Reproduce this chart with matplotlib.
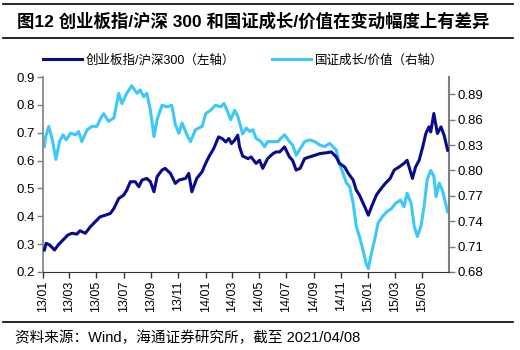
import pandas as pd
import matplotlib
matplotlib.use("Agg")
import matplotlib.pyplot as plt
import matplotlib.dates as mdates
from matplotlib.lines import Line2D

plt.rcParams['font.family'] = ['Liberation Sans', 'Noto Sans CJK SC', 'DejaVu Sans']

# 创业板指/沪深300 (left axis)
cyb_dates = [
    "2013-01-04", "2013-01-08", "2013-01-16", "2013-01-27", "2013-02-04",
    "2013-02-15", "2013-02-26", "2013-03-07", "2013-03-18", "2013-03-25",
    "2013-04-06", "2013-04-17", "2013-04-28", "2013-05-09", "2013-05-21",
    "2013-06-01", "2013-06-09", "2013-06-20", "2013-07-01", "2013-07-08",
    "2013-07-16", "2013-07-27", "2013-08-04", "2013-08-11", "2013-08-22",
    "2013-08-30", "2013-09-07", "2013-09-14", "2013-09-25", "2013-10-02",
    "2013-10-14", "2013-10-25", "2013-11-02", "2013-11-17", "2013-11-24",
    "2013-12-01", "2013-12-12", "2013-12-24", "2014-01-01", "2014-01-08",
    "2014-01-19", "2014-01-30", "2014-02-07", "2014-02-15", "2014-02-22",
    "2014-02-28", "2014-03-07", "2014-03-14", "2014-03-18", "2014-03-25",
    "2014-04-06", "2014-04-13", "2014-04-24", "2014-05-02", "2014-05-09",
    "2014-05-20", "2014-06-01", "2014-06-08", "2014-06-16", "2014-06-27",
    "2014-07-08", "2014-07-15", "2014-07-23", "2014-08-01", "2014-08-11",
    "2014-08-22", "2014-09-03", "2014-09-14", "2014-09-29", "2014-10-10",
    "2014-10-21", "2014-10-28", "2014-11-09", "2014-11-17", "2014-11-28",
    "2014-12-05", "2014-12-12", "2014-12-24", "2015-01-01", "2015-01-08",
    "2015-01-19", "2015-01-27", "2015-02-08", "2015-02-19", "2015-02-28",
    "2015-03-11", "2015-03-22", "2015-03-29", "2015-04-10", "2015-04-17",
    "2015-04-25", "2015-05-03", "2015-05-10", "2015-05-17", "2015-05-21",
    "2015-05-28", "2015-06-05", "2015-06-13", "2015-06-20", "2015-06-28",
]
cyb_values = [
    0.279, 0.303, 0.297, 0.279, 0.297,
    0.315, 0.333, 0.339, 0.336, 0.348,
    0.339, 0.362, 0.380, 0.398, 0.404,
    0.410, 0.428, 0.464, 0.476, 0.494,
    0.524, 0.524, 0.506, 0.530, 0.536,
    0.524, 0.488, 0.542, 0.566, 0.572,
    0.554, 0.518, 0.530, 0.536, 0.554,
    0.488, 0.536, 0.560, 0.590, 0.613,
    0.643, 0.685, 0.679, 0.667, 0.679,
    0.661, 0.673, 0.691, 0.649, 0.616,
    0.607, 0.613, 0.590, 0.601, 0.572,
    0.607, 0.625, 0.631, 0.631, 0.649,
    0.613, 0.601, 0.566, 0.572, 0.607,
    0.613, 0.619, 0.625, 0.628, 0.631,
    0.613, 0.590, 0.577, 0.554, 0.530,
    0.494, 0.476, 0.434, 0.404, 0.434,
    0.476, 0.494, 0.518, 0.536, 0.566,
    0.577, 0.590, 0.601, 0.536, 0.577,
    0.601, 0.649, 0.697, 0.721, 0.703,
    0.769, 0.697, 0.721, 0.691, 0.637,
]

# 国证成长/价值 (right axis)
gz_dates = [
    "2013-01-04", "2013-01-07", "2013-01-14", "2013-01-22", "2013-01-30",
    "2013-02-07", "2013-02-15", "2013-02-22", "2013-03-04", "2013-03-15",
    "2013-03-22", "2013-03-29", "2013-04-10", "2013-04-21", "2013-05-02",
    "2013-05-09", "2013-05-17", "2013-05-28", "2013-06-09", "2013-06-20",
    "2013-06-27", "2013-07-08", "2013-07-19", "2013-07-31", "2013-08-07",
    "2013-08-15", "2013-08-22", "2013-08-30", "2013-09-07", "2013-09-14",
    "2013-09-25", "2013-10-06", "2013-10-17", "2013-10-25", "2013-11-02",
    "2013-11-09", "2013-11-20", "2013-11-28", "2013-12-09", "2013-12-24",
    "2014-01-01", "2014-01-12", "2014-01-23", "2014-02-04", "2014-02-11",
    "2014-02-18", "2014-02-26", "2014-03-07", "2014-03-14", "2014-03-25",
    "2014-04-02", "2014-04-10", "2014-04-17", "2014-04-24", "2014-05-05",
    "2014-05-13", "2014-05-20", "2014-06-01", "2014-06-12", "2014-06-19",
    "2014-06-27", "2014-07-08", "2014-07-15", "2014-07-23", "2014-08-04",
    "2014-08-11", "2014-08-22", "2014-09-03", "2014-09-14", "2014-09-25",
    "2014-10-06", "2014-10-21", "2014-10-28", "2014-11-05", "2014-11-13",
    "2014-11-20", "2014-11-28", "2014-12-05", "2014-12-12", "2014-12-20",
    "2014-12-27", "2015-01-01", "2015-01-08", "2015-01-16", "2015-01-23",
    "2015-02-01", "2015-02-11", "2015-02-22", "2015-03-03", "2015-03-14",
    "2015-03-22", "2015-03-29", "2015-04-07", "2015-04-14", "2015-04-21",
    "2015-04-29", "2015-05-06", "2015-05-13", "2015-05-21", "2015-05-28",
    "2015-06-02", "2015-06-09", "2015-06-16", "2015-06-28",
]
gz_values = [
    0.828, 0.840, 0.852, 0.836, 0.813,
    0.834, 0.842, 0.836, 0.844, 0.842,
    0.846, 0.834, 0.848, 0.852, 0.852,
    0.860, 0.867, 0.858, 0.862, 0.891,
    0.879, 0.891, 0.900, 0.891, 0.895,
    0.887, 0.891, 0.871, 0.840, 0.860,
    0.877, 0.875, 0.877, 0.854, 0.844,
    0.856, 0.842, 0.834, 0.848, 0.852,
    0.867, 0.871, 0.877, 0.875, 0.879,
    0.871, 0.860, 0.871, 0.864, 0.843,
    0.850, 0.846, 0.848, 0.838, 0.834,
    0.828, 0.834, 0.834, 0.834, 0.838,
    0.842, 0.834, 0.830, 0.818, 0.828,
    0.834, 0.836, 0.834, 0.830, 0.828,
    0.832, 0.824, 0.808, 0.797, 0.785,
    0.781, 0.761, 0.734, 0.722, 0.706,
    0.690, 0.684, 0.702, 0.720, 0.738,
    0.745, 0.751, 0.755, 0.761, 0.765,
    0.757, 0.773, 0.761, 0.734, 0.722,
    0.734, 0.757, 0.789, 0.800, 0.793,
    0.769, 0.785, 0.777, 0.751,
]

left_ticks = [0.2, 0.3, 0.4, 0.5, 0.6, 0.7, 0.8, 0.9]
right_ticks = [0.68, 0.71, 0.74, 0.77, 0.80, 0.83, 0.86, 0.89]

dark = "#0a0a8c"
light = "#3cc8fa"
axis_grey = "#7f7f7f"

fig = plt.figure(figsize=(5.2, 3.5), dpi=100)
ax = fig.add_axes([43 / 520, 1 - 272 / 350, (449 - 43) / 520, (272 - 77) / 350])
ax2 = ax.twinx()

ax.plot(pd.to_datetime(cyb_dates), cyb_values, color=dark, lw=2.2, zorder=3)
ax2.plot(pd.to_datetime(gz_dates), gz_values, color=light, lw=2.2, zorder=2)
ax.set_zorder(ax2.get_zorder() + 1)
ax.patch.set_visible(False)

ax.set_ylim(0.2, 0.9)
ax.set_yticks(left_ticks)
ax.set_yticklabels([f"{t:.1f}" for t in left_ticks])
ax2.set_ylim(0.68, 0.68 + 0.03 * 195 / 25.4)
ax2.set_yticks(right_ticks)
ax2.set_yticklabels([f"{t:.2f}" for t in right_ticks])

ax.set_xlim(pd.Timestamp("2013-01-01"), pd.Timestamp("2015-07-01"))
ax.xaxis.set_major_locator(mdates.MonthLocator(bymonth=[1, 3, 5, 7, 9, 11]))
ax.xaxis.set_major_formatter(mdates.DateFormatter("%y/%m"))
ax.set_xticks(ax.get_xticks()[:-1])
for lab in ax.get_xticklabels():
    lab.set_rotation(90)

for a in (ax, ax2):
    a.spines['top'].set_visible(False)
    a.tick_params(labelsize=9.5, length=4, width=1, color=axis_grey, pad=2)
ax.spines['right'].set_visible(False)
ax.spines['left'].set_color(axis_grey)
ax.spines['bottom'].set_color("#333333")
ax2.spines['left'].set_visible(False)
ax2.spines['bottom'].set_visible(False)
ax2.spines['right'].set_color(axis_grey)
ax2.spines['right'].set_linewidth(1.5)
ax.spines['left'].set_linewidth(1.2)
ax.tick_params(axis='x', labelsize=9, color="#333333")

handles = [Line2D([], [], color=dark, lw=2.2), Line2D([], [], color=light, lw=2.2)]
labels = ["创业板指/沪深300（左轴）", "国证成长/价值（右轴）"]
ax.legend(handles, labels, loc='center left', bbox_to_anchor=(0, 1.087), ncol=2,
          frameon=False, fontsize=9, handlelength=3.1, handletextpad=0.3,
          columnspacing=3.0, borderpad=0, borderaxespad=0)

fig.text(17 / 520, 1 - 21 / 350, "图12 创业板指/沪深 300 和国证成长/价值在变动幅度上有差异",
         fontsize=12.5, fontweight='bold', va='center', ha='left')
fig.text(15 / 520, 1 - 338 / 350, "资料来源：Wind，海通证券研究所，截至 2021/04/08",
         fontsize=10.5, va='center', ha='left')
for yy in (3.5, 38, 322):
    fig.add_artist(Line2D([3 / 520, 513 / 520], [1 - yy / 350] * 2, color="black", lw=1.2))

fig.savefig("out.png", dpi=100)
